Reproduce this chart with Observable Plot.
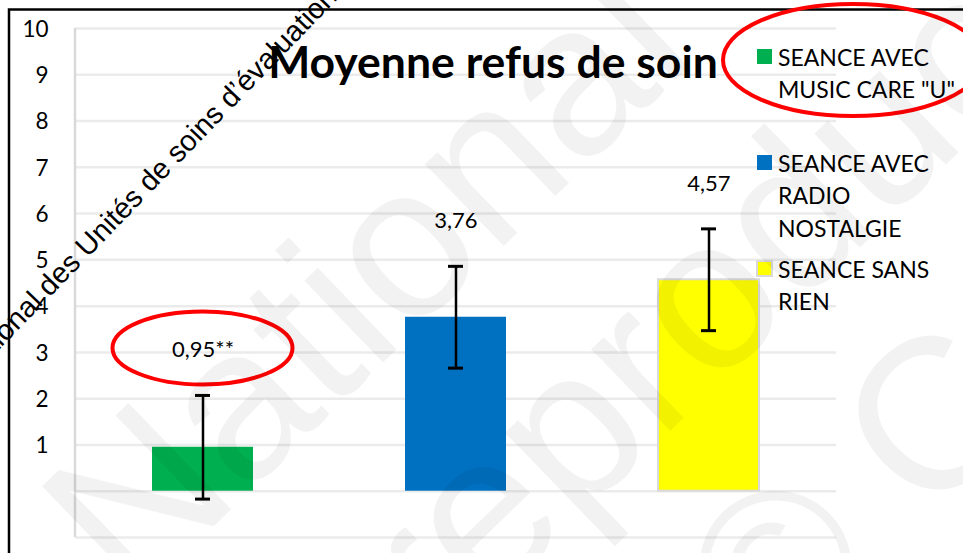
<!DOCTYPE html>
<html><head><meta charset="utf-8">
<script src="https://cdn.jsdelivr.net/npm/d3@7"></script>
<script src="https://cdn.jsdelivr.net/npm/@observablehq/plot@0.6"></script>
<style>
html,body{margin:0;padding:0;background:#fff;}
#chart{width:963px;height:553px;overflow:hidden;position:relative;}
</style></head><body><div id="chart"></div>
<script>
// ---- data ----
const categories = ['SEANCE AVEC MUSIC CARE "U"', 'SEANCE AVEC RADIO NOSTALGIE', 'SEANCE SANS RIEN'];
const legendLines = [['SEANCE AVEC', 'MUSIC CARE "U"'], ['SEANCE AVEC', 'RADIO', 'NOSTALGIE'], ['SEANCE SANS', 'RIEN']];
const means = [0.95, 3.76, 4.57];
const errors = [1.12, 1.10, 1.10];
const valueLabels = ["0,95**", "3,76", "4,57"];
const barColors = ["#00B050", "#0070C0", "#FFFF00"];
const yTickValues = [1, 2, 3, 4, 5, 6, 7, 8, 9, 10];
const gridValues = [-1, 0, 1, 2, 3, 4, 5, 6, 7, 8, 9, 10];
const titleText = "Moyenne refus de soin";
const overlayText = "National des Unités de soins d’évaluation";
const watermarkLines = ["National", "reproduction", "© C"];

const data = categories.map((c, i) => ({
  cat: c, mean: means[i], lo: means[i] - errors[i], hi: means[i] + errors[i], label: valueLabels[i]
}));

const LABEL_DY = -45;

const chart = Plot.plot({
  width: 963, height: 553,
  marginLeft: 75, marginRight: 127, marginTop: 28, marginBottom: 16,
  style: {fontFamily: "Lato, sans-serif", fontSize: "21px", color: "#000", background: "#fff"},
  x: {domain: categories, paddingInner: 0.6, paddingOuter: 0.3, axis: null},
  y: {domain: [-1, 10], axis: null},
  color: {domain: categories, range: barColors},
  marks: [
    Plot.ruleY(gridValues, {stroke: "#ebebeb", strokeWidth: 2.5}),
    Plot.text(yTickValues, {y: d => d, text: d => String(d), frameAnchor: "left", dx: -27, dy: 1,
      textAnchor: "end", fontSize: 22.5, fill: "#000"}),
    Plot.barY(data, {x: "cat", y: "mean", fill: "cat"}),
    Plot.barY(data.filter(d => d.cat === categories[2]), {x: "cat", y: "mean", fill: "none", stroke: "#d9d9d9", strokeWidth: 2}),
    Plot.ruleX(data, {x: "cat", y1: "lo", y2: "hi", stroke: "#000", strokeWidth: 2.5}),
    Plot.tickY(data, {x: "cat", y: "lo", stroke: "#000", strokeWidth: 3, insetLeft: 43, insetRight: 43}),
    Plot.tickY(data, {x: "cat", y: "hi", stroke: "#000", strokeWidth: 3, insetLeft: 43, insetRight: 43}),
    Plot.text(data, {x: "cat", y: "hi", text: "label", dy: LABEL_DY, fontSize: 22, fill: "#000"})
  ]
});
document.getElementById("chart").appendChild(chart);

const xs = chart.scale("x"), ys = chart.scale("y");
const svg = d3.select(chart);
const y0 = ys.apply(-1), yTop = ys.apply(10);

// left axis line of the plot area
svg.append("line").attr("x1", 75).attr("x2", 75).attr("y1", yTop).attr("y2", y0)
  .attr("stroke", "#d9d9d9").attr("stroke-width", 2.5);

// outer chart frame
svg.append("rect").attr("x", 9).attr("y", 9.5).attr("width", 1000).attr("height", 600)
  .attr("fill", "none").attr("stroke", "#000").attr("stroke-width", 2.5);

// title
svg.append("text").attr("x", 493).attr("y", 78).attr("text-anchor", "middle")
  .attr("font-family", "Lato, sans-serif").attr("font-weight", "bold").attr("font-size", 44.5)
  .attr("fill", "#000").text(titleText);

// legend
const lg = svg.append("g").attr("font-family", "Lato, sans-serif").attr("font-size", 23)
  .attr("fill", "#000").attr("text-anchor", "start");
legendLines.forEach((lines, i) => {
  const base = 66 + i * 106;
  lg.append("rect").attr("x", 757).attr("y", base - 17).attr("width", 15).attr("height", 15)
    .attr("fill", barColors[i]).attr("stroke", i === 2 ? "#d9d9d9" : "none").attr("stroke-width", 2);
  lines.forEach((t, j) => {
    lg.append("text").attr("x", 778).attr("y", base + j * 32.3).attr("text-anchor", "start").text(t);
  });
});

// red ellipse around the first value label
const c0 = data[0];
const ex = xs.apply(c0.cat) + xs.bandwidth / 2;
const ey = ys.apply(c0.hi) + LABEL_DY - 2;
svg.append("ellipse").attr("cx", ex).attr("cy", ey).attr("rx", 90).attr("ry", 36.5)
  .attr("fill", "none").attr("stroke", "#ff0000").attr("stroke-width", 4);
// red ellipse around the first legend entry
svg.append("ellipse").attr("cx", 853).attr("cy", 60).attr("rx", 130).attr("ry", 56)
  .attr("fill", "none").attr("stroke", "#ff0000").attr("stroke-width", 4);

// rotated black overlay text
svg.append("text").attr("transform", "translate(-30,380) rotate(-46)").attr("text-anchor", "start")
  .attr("font-family", "'Liberation Sans', Arial, sans-serif").attr("font-size", 29)
  .attr("fill", "#000").text(overlayText);

// watermark
const wm = svg.append("g").attr("font-family", "'Liberation Sans', Arial, sans-serif")
  .attr("font-size", 215).attr("fill", "rgba(0,0,0,0.05)").attr("text-anchor", "start");
const wmPos = [[132, 605], [436, 657], [770, 675]];
watermarkLines.forEach((t, i) => {
  wm.append("text").attr("transform", `translate(${wmPos[i][0]},${wmPos[i][1]}) rotate(-44)`)
    .attr("text-anchor", "start").text(t);
});
</script>
</body></html>
